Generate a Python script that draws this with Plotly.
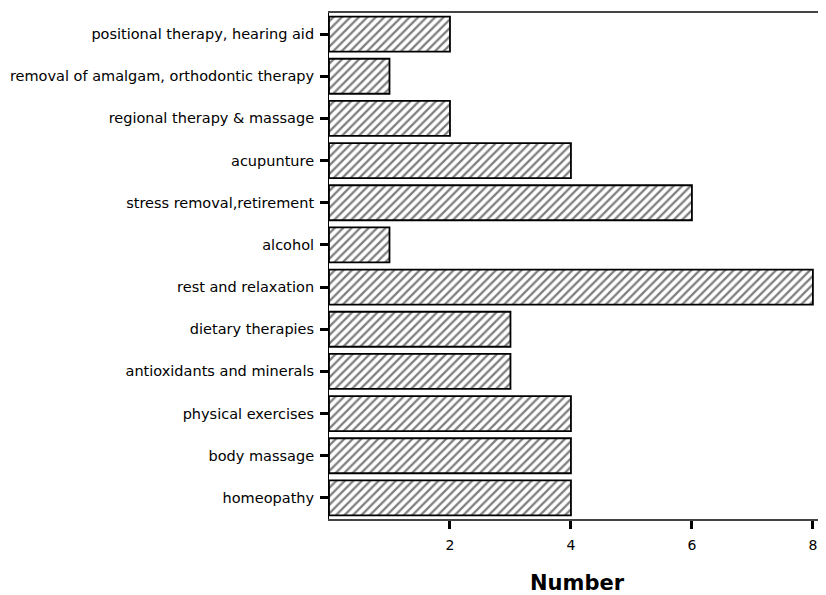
import plotly.graph_objects as go

categories = [
    "positional therapy, hearing aid",
    "removal of amalgam, orthodontic therapy",
    "regional therapy & massage",
    "acupunture",
    "stress removal,retirement",
    "alcohol",
    "rest and relaxation",
    "dietary therapies",
    "antioxidants and minerals",
    "physical exercises",
    "body massage",
    "homeopathy",
]
values = [2, 1, 2, 4, 6, 1, 8, 3, 3, 4, 4, 4]
x_ticks = [2, 4, 6, 8]

fig = go.Figure(
    go.Bar(
        x=values,
        y=categories,
        orientation="h",
        marker=dict(
            color="white",
            line=dict(color="black", width=1.8),
            pattern=dict(shape="/", fgcolor="black", bgcolor="white", size=6, solidity=0.38),
        ),
    )
)

# page body has an 8px default margin, so the figure is sized to fit the 826x595 window
fig.update_layout(
    width=818,
    height=587,
    margin=dict(l=321, r=1, t=5, b=72),
    paper_bgcolor="white",
    plot_bgcolor="white",
    bargap=0.17,
    showlegend=False,
    font=dict(family="DejaVu Sans", size=14, color="black"),
)

fig.update_xaxes(
    range=[0, 8.2],
    tickvals=x_ticks,
    ticktext=[str(v) for v in x_ticks],
    ticks="outside",
    ticklen=8,
    tickwidth=3,
    tickcolor="black",
    showline=True,
    linecolor="#444444",
    linewidth=1.5,
    mirror=True,
    showgrid=False,
    zeroline=False,
    tickfont=dict(family="DejaVu Sans", size=14),
    ticklabelstandoff=4,
    title=dict(text="Number", font=dict(family="DejaVu Sans", size=21, weight="bold"), standoff=27),
)

fig.update_yaxes(
    categoryorder="array",
    categoryarray=categories[::-1],
    ticks="outside",
    ticklen=8,
    tickwidth=3,
    tickcolor="black",
    showline=True,
    linecolor="black",
    linewidth=1,
    showgrid=False,
    zeroline=False,
    tickfont=dict(family="DejaVu Sans", size=14.5),
    ticklabelstandoff=3,
)

fig.write_html("out.html")
